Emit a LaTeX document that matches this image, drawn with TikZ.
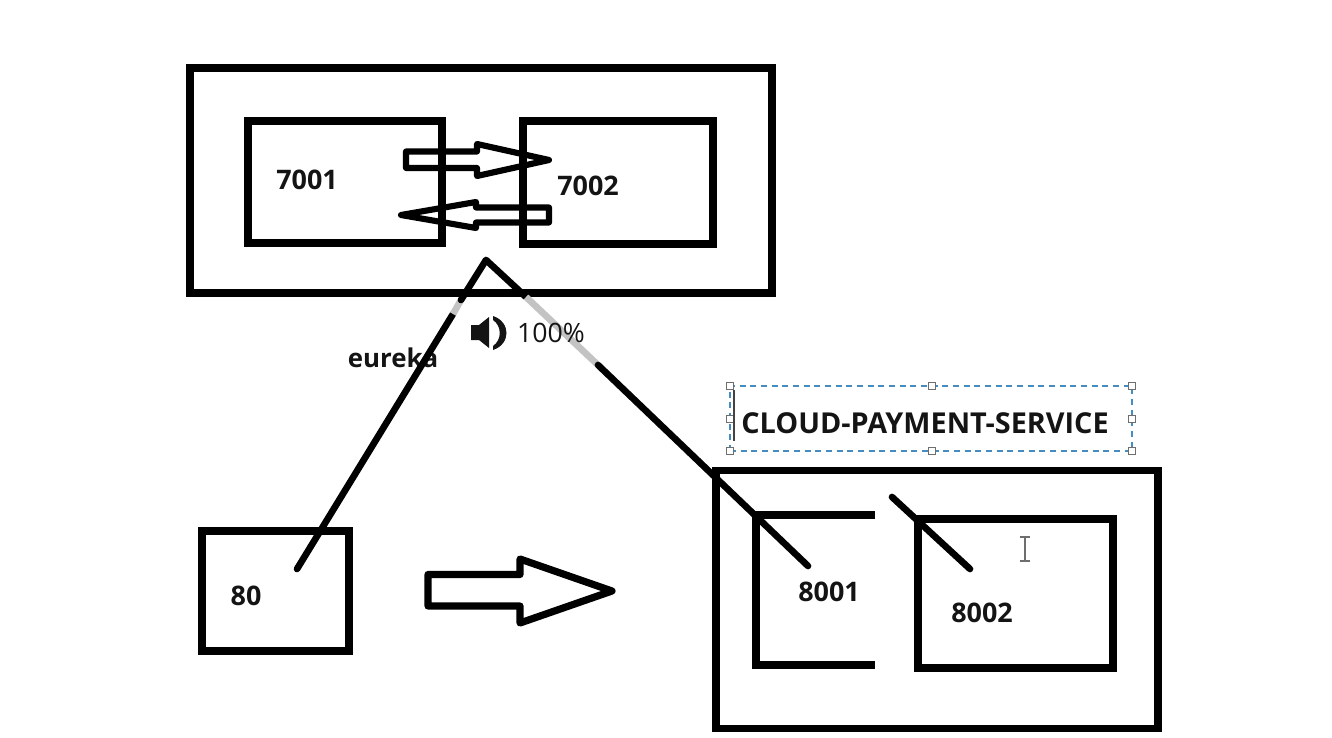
\documentclass[tikz,border=0pt]{standalone}
\usepackage{fontspec}
\setmainfont{Open Sans}
\usetikzlibrary{positioning}
\definecolor{selblue}{RGB}{70,140,190}
\definecolor{handlegray}{RGB}{110,110,110}
\definecolor{fadegray}{RGB}{195,195,195}
\definecolor{inktext}{RGB}{20,20,20}
\begin{document}
\begin{tikzpicture}[x=0.75pt,y=-0.75pt,
  boxnode/.style={draw=black, line width=5.4pt, inner sep=0pt, outer sep=0pt},
  labelnode/.style={font=\bfseries\fontsize{20.2}{24}\selectfont, text=inktext, inner sep=0pt},
  wire/.style={draw=black, line width=5pt, line cap=round, line join=round},
  blockarrow/.style={draw=black, line join=round},
  handlenode/.style={draw=handlegray, fill=white, line width=0.7pt, minimum size=4.6pt, inner sep=0pt}]
\useasboundingbox (0,0) rectangle (1332,738);
% top group
\node[boxnode, minimum width=436.5pt, minimum height=168.75pt] (eurekabox) at (481,180.5) {};
\node[boxnode, minimum width=145.5pt, minimum height=91.5pt] (n7001) at (345,182) {};
\node[boxnode, minimum width=142.5pt, minimum height=92.25pt] (n7002) at (618,182.5) {};
\node[labelnode] (t7001) at (307,180) {7001};
\node[labelnode] (t7002) at (588,186) {7002};
\draw[blockarrow, line width=4.6pt] (406,151.5)--(477,151.5)--(477,144)--(549,160)--(477,176)--(477,168)--(406,168)--cycle;
\draw[blockarrow, line width=4.6pt] (549,207.5)--(476,207.5)--(476,202)--(401,215)--(476,228)--(476,222.5)--(549,222.5)--cycle;
% consumer and providers
\node[boxnode, minimum width=110.25pt, minimum height=90pt] (n80) at (275.5,591) {};
\node[boxnode, minimum width=331.5pt, minimum height=193.5pt] (paybox) at (937,599.5) {};
\node[boxnode, minimum width=146.25pt, minimum height=111.75pt] (n8002) at (1015.5,593.5) {};
\coordinate (a1) at (875,515);
\coordinate (a2) at (756,515);
\coordinate (a3) at (756,665);
\coordinate (a4) at (875,665);
\draw[draw=black, line width=5.4pt] (a1)--(a2)--(a3)--(a4);
\node[labelnode] (t80) at (246,596) {80};
\node[labelnode] (t8001) at (829,592) {8001};
\node[labelnode] (t8002) at (982,613) {8002};
\node[labelnode, font=\bfseries\fontsize{19.4}{24}\selectfont] (teureka) at (393,358) {eureka};
\draw[blockarrow, line width=5.4pt] (428,574.5)--(520,574.5)--(520,559)--(612,591)--(520,623)--(520,606)--(428,606)--cycle;
% lines through the registry
\coordinate (apex) at (486,260);
\coordinate (c80) at (297,569);
\coordinate (c8001) at (808,566);
\coordinate (lgap1) at (461,300);
\coordinate (lgap2) at (453,314);
\coordinate (rgap1) at (526,297);
\coordinate (rgap2) at (598,365);
\coordinate (c8002a) at (892,497);
\coordinate (c8002b) at (970,569);
\draw[wire] (c80)--(lgap2);
\draw[wire, draw=fadegray, line cap=butt] (lgap2)--(lgap1);
\draw[wire] (lgap1)--(apex)--(rgap1);
\draw[wire, draw=fadegray, line cap=butt] (rgap1)--(rgap2);
\draw[wire] (rgap2)--(c8001);
\draw[wire] (c8002a)--(c8002b);
% volume overlay
\fill[inktext] (471,325)--(479,325)--(489,317)--(489,348)--(479,340)--(471,340)--cycle;
\fill[inktext] (493,316) .. controls (511,322) and (511,344) .. (493,350) -- (493,346) .. controls (502,340) and (502,326) .. (493,320) -- cycle;
\node[font=\fontsize{20}{22}\selectfont, text=inktext, inner sep=0pt] (tvolume) at (551,333) {100\%};
% text box being edited
\node[draw=selblue, dash pattern=on 4.5pt off 3.5pt, line width=1pt, minimum width=301.5pt, minimum height=48.75pt, inner sep=0pt] (selbox) at (931,418.5) {};
\node[labelnode, font=\bfseries\fontsize{21.6}{24}\selectfont] (tcloud) at (925,423) {CLOUD-PAYMENT-SERVICE};
\foreach \hx/\hy [count=\hn] in {730/386,932/386,1132/386,730/419,1132/419,730/451,932/451,1132/451}
  \node[handlenode] (h\hn) at (\hx,\hy) {};
\coordinate (caret1) at (734,390);
\coordinate (caret2) at (734,441);
\draw[inktext!80, line width=0.9pt] (caret1)--(caret2);
% mouse cursor
\coordinate (beam1) at (1025,537);
\coordinate (beam2) at (1025,561);
\draw[handlegray, line width=1.1pt] (beam1)--(beam2);
\draw[handlegray, line width=0.9pt] (1020,537)--(1030,537) (1020,561)--(1030,561);
\end{tikzpicture}
\end{document}
